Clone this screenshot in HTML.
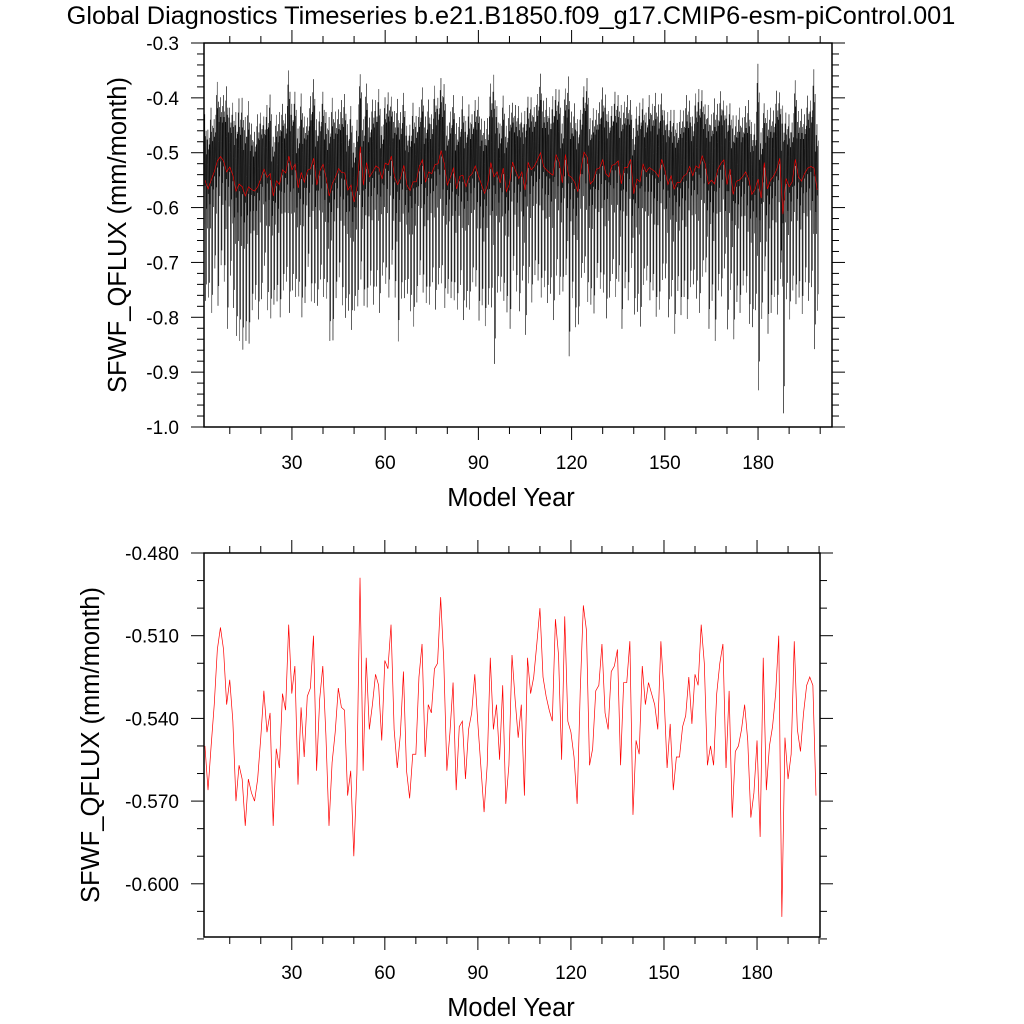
<!DOCTYPE html>
<html><head><meta charset="utf-8"><style>
body{margin:0;background:#fff;}
svg{display:block;font-family:"Liberation Sans",sans-serif;}
</style></head><body>
<svg id="chart" width="1024" height="1024" viewBox="0 0 1024 1024">
<text x="511" y="24" font-size="25.3" text-anchor="middle">Global Diagnostics Timeseries b.e21.B1850.f09_g17.CMIP6-esm-piControl.001</text>
</svg>
<script>
const years0 = 2;
const annualValues = [
-.550,-.566,-.550,-.535,-.515,-.507,-.515,-.535,-.526,-.541,-.570,-.557,-.562,-.579,-.562,-.567,-.570,-.562,-.547,-.530,-.545,-.538,-.579,-.551,-.558,-.531,-.537,-.506,-.531,-.521,-.564,-.536,-.554,-.532,-.529,-.510,-.559,-.533,-.521,-.546,-.579,-.556,-.545,-.529,-.536,-.537,-.568,-.559,-.590,-.560,-.489,
-.559,-.518,-.544,-.535,-.524,-.528,-.548,-.519,-.522,-.506,-.544,-.558,-.546,-.523,-.559,-.569,-.553,-.553,-.525,-.513,-.554,-.535,-.538,-.522,-.520,-.496,-.519,-.559,-.545,-.527,-.566,-.543,-.541,-.562,-.544,-.538,-.524,-.542,-.558,-.574,-.557,-.518,-.544,-.535,-.555,-.528,-.571,-.557,-.517,
-.533,-.547,-.535,-.568,-.518,-.531,-.525,-.513,-.500,-.525,-.532,-.537,-.541,-.504,-.517,-.555,-.503,-.541,-.545,-.554,-.571,-.530,-.499,-.508,-.557,-.551,-.530,-.528,-.513,-.538,-.544,-.523,-.521,-.515,-.557,-.527,-.527,-.512,-.575,-.548,-.553,-.521,-.535,-.527,-.531,-.535,-.544,-.512,-.531,-.558,
-.542,-.566,-.554,-.554,-.543,-.539,-.525,-.542,-.524,-.528,-.506,-.520,-.557,-.550,-.557,-.531,-.520,-.513,-.558,-.530,-.576,-.552,-.550,-.544,-.535,-.548,-.576,-.567,-.548,-.583,-.518,-.566,-.550,-.543,-.531,-.510,-.612,-.547,-.562,-.553,-.512,-.544,-.552,-.538,-.528,-.525,-.528,-.568];
const seasonalAnom = [0.07,-0.04,0.10,-0.08,0.05,0.12,-0.01,0.08,-0.22,0.03,0.09,-0.19];
const seasonalScale = [
1.0,0.9,1.1,0.8,1.2,0.9,1.0,1.3,0.9,1.1,1.2,1.3,1.35,1.2,1.3,1.0,0.9,1.1,1.0,0.8,1.1,1.2,0.9,1.0,1.1,1.0,0.9,1.3,1.0,1.1,0.9,1.2,1.0,0.8,1.1,1.2,1.0,0.9,1.1,1.0,1.2,1.3,1.0,0.9,1.1,1.2,1.0,1.2,0.9,1.0,1.1,
1.0,1.2,0.9,1.1,1.0,1.2,0.8,1.0,1.1,0.9,1.0,1.3,1.0,1.1,0.9,1.0,1.2,1.0,0.9,1.1,1.0,1.1,0.9,1.2,1.0,1.1,1.2,0.9,1.0,1.1,1.0,0.9,1.2,1.0,1.1,0.9,1.0,1.2,1.0,1.1,1.0,1.2,1.55,1.0,0.9,1.1,1.0,1.2,0.9,
1.0,1.1,0.9,1.2,1.0,1.1,0.9,1.0,1.2,1.0,1.1,1.0,1.2,1.0,1.1,0.9,1.0,1.5,1.0,1.2,1.1,0.9,1.0,1.2,1.0,1.1,0.9,1.0,1.1,1.2,1.0,0.9,1.1,1.0,1.2,1.0,1.1,0.9,1.0,1.1,1.2,1.0,0.9,1.1,1.0,1.2,1.1,1.0,0.9,1.1,
1.0,1.2,0.9,1.1,1.0,1.2,1.0,0.9,1.1,1.2,1.0,0.9,1.2,1.0,1.3,1.0,1.1,0.9,1.2,1.0,1.2,1.0,1.1,0.9,1.0,1.2,1.1,1.0,1.75,1.0,0.9,1.2,1.1,1.0,1.2,1.0,1.65,1.0,1.1,0.9,1.2,1.0,1.1,0.9,1.1,1.0,1.5,1.0];
const xTicks = [30,60,90,120,150,180];
const topYTicks = [-0.3,-0.4,-0.5,-0.6,-0.7,-0.8,-0.9,-1.0];
const topYLabels = ["-0.3","-0.4","-0.5","-0.6","-0.7","-0.8","-0.9","-1.0"];
const botYTicks = [-0.48,-0.51,-0.54,-0.57,-0.60];
const botYLabels = ["-0.480","-0.510","-0.540","-0.570","-0.600"];

const NS="http://www.w3.org/2000/svg";
const svg=document.getElementById('chart');
function mk(tag,attrs,parent){const e=document.createElementNS(NS,tag);for(const k in attrs)e.setAttribute(k,attrs[k]);(parent||svg).appendChild(e);return e;}

function panel(p){
  const g=mk('g',{});
  
  
  const sx=v=>p.x0+(v-p.xmin)/(p.xmax-p.xmin)*(p.x1-p.x0);
  const sy=v=>p.y0+(p.ymax-v)/(p.ymax-p.ymin)*(p.y1-p.y0);
  for(let v=10;v<=p.xmax;v+=10){
    if(v<p.xmin)continue;
    const major=v%30===0, L=major?13:7, x=sx(v);
    const t1=mk('line',{x1:x,y1:p.y1,x2:x,y2:p.y1+L,stroke:'#000','stroke-width':1},g);
    
    
    const t2=mk('line',{x1:x,y1:p.y0,x2:x,y2:p.y0-L,stroke:'#000','stroke-width':1},g);
    
    
  }
  xTicks.forEach(v=>{
    const t=mk('text',{x:sx(v),y:p.y1+42,'font-size':19,'text-anchor':'middle'},g);
    t.textContent=String(v);
    
    
  });
  const n=Math.round((p.ymax-p.ymin)/p.minor);
  for(let i=0;i<=n;i++){
    const v=p.ymax-i*p.minor, y=sy(v);
    const major=i%p.majorEvery===0, L=major?13:7;
    const a=mk('line',{x1:p.x0,y1:y,x2:p.x0-L,y2:y,stroke:'#000','stroke-width':1},g);
    
    
    const b=mk('line',{x1:p.x1,y1:y,x2:p.x1+L,y2:y,stroke:'#000','stroke-width':1},g);
    
    
  }
  p.yTicks.forEach((v,i)=>{
    const t=mk('text',{x:p.x0-25,y:sy(v)+7,'font-size':19,'text-anchor':'end'},g);
    t.textContent=p.yLabels[i];
    
    
  });
  p.series.forEach(s=>{
    const d=s.pts.map((q,i)=>(i?'L':'M')+sx(q[0]).toFixed(2)+','+sy(q[1]).toFixed(2)).join('');
    const path=mk('path',{d:d,fill:'none',stroke:s.color,'stroke-width':s.w,'stroke-opacity':s.op||1},g);
    
    
  });
  const fr=mk('rect',{x:p.x0,y:p.y0,width:p.x1-p.x0,height:p.y1-p.y0,fill:'none',stroke:'#000','stroke-width':1.5},g);
  
  
  const xt=mk('text',{x:511,y:p.y1+79,'font-size':25.5,'text-anchor':'middle'},g);
  xt.textContent='Model Year';
  
  
  const cy=(p.y0+p.y1)/2;
  const yt=mk('text',{x:p.ytx,y:cy,'font-size':25.5,'text-anchor':'middle',transform:'rotate(-90 '+p.ytx+' '+cy+')'},g);
  yt.textContent='SFWF_QFLUX (mm/month)';
  
  
}

const annualPts=annualValues.map((v,i)=>[years0+i,v]);
const monthlyPts=[];
annualValues.forEach((v,i)=>{
  seasonalAnom.forEach((a,m)=>{monthlyPts.push([years0+i-0.5+(m+0.5)/12, v+a*seasonalScale[i]]);});
});

panel({name:'monthly-panel',x0:204,x1:832,y0:43,y1:427,xmin:1.7,xmax:203.8,ymin:-1.0,ymax:-0.3,minor:0.02,majorEvery:5,
  yTicks:topYTicks,yLabels:topYLabels,ytx:126,
  series:[{name:'monthly-series-line',pts:monthlyPts,color:'#000',w:0.5,op:0.85},{name:'annual-mean-line-top',pts:annualPts,color:'#ff0000',w:0.6}]});
panel({name:'annual-panel',x0:204,x1:820,y0:553,y1:937,xmin:1.7,xmax:200.3,ymin:-0.6193,ymax:-0.48,minor:0.01,majorEvery:3,
  yTicks:botYTicks,yLabels:botYLabels,ytx:99,
  series:[{name:'annual-mean-line',pts:annualPts,color:'#ff0000',w:0.7}]});
</script>
</body></html>
